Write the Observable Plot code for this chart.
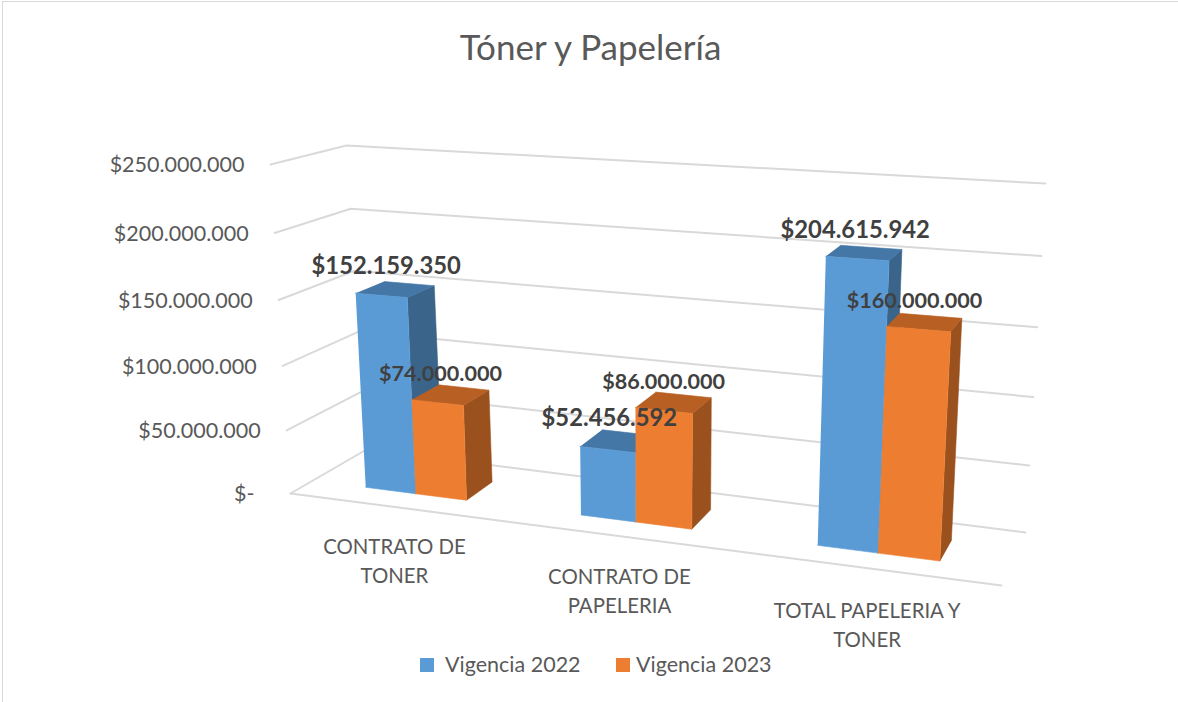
<!DOCTYPE html>
<html lang="es">
<head>
<meta charset="utf-8">
<script src="https://cdn.jsdelivr.net/npm/d3@7"></script>
<script src="https://cdn.jsdelivr.net/npm/@observablehq/plot@0.6"></script>
<style>
  html, body { margin: 0; background: #fff; }
  #frame { position: absolute; left: 2px; top: 1px; width: 1176px; height: 701px; box-sizing: border-box;
           border-left: 1px solid #d9d9d9; border-top: 1px solid #d9d9d9; }
  #page { position: absolute; left: 0; top: 0; width: 1178px; height: 702px; font-family: Lato, sans-serif; color: #595959; }
  #title { position: absolute; left: 0; top: 0; width: 1181px; height: 90px; line-height: 92px; text-align: center;
           font-size: 35px; font-weight: 400; margin: 0; }
  #chart { position: absolute; left: 0; top: 90px; }
  #legend { position: absolute; left: 0; top: 640px; width: 1178px; height: 62px; font-size: 21.5px; }
  #legend span { position: absolute; top: 12px; line-height: 24px; white-space: nowrap; }
  #legend i { position: absolute; top: 18px; width: 14px; height: 14px; }
</style>
</head>
<body>
<div id="frame"></div>
<div id="page">
  <h1 id="title">Tóner y Papelería</h1>
  <div id="chart"></div>
  <div id="legend"></div>
</div>
<script>
const categories = ["CONTRATO DE\nTONER", "CONTRATO DE\nPAPELERIA", "TOTAL PAPELERIA Y\nTONER"];
const vigencia2022 = [152159350, 52456592, 204615942];
const vigencia2023 = [74000000, 86000000, 160000000];
const seriesNames = ["Vigencia 2022", "Vigencia 2023"];
const yTicks = [0, 50000000, 100000000, 150000000, 200000000, 250000000];
const yMax = 250000000;

// colours: [front, top, side] for each series
const palette = [
  ["#5b9bd5", "#4477a6", "#3a6489"],
  ["#ed7d31", "#b85f24", "#9a511e"]
];

// The 3D view of the box: where its eight corners fall on the page.
const view = {
  floor: {fl: [290, 493], fr: [1001, 585], bl: [366, 449], br: [1025, 532]},
  ceil:  {fl: [270, 164], fr: [1023, 207], bl: [346, 145], br: [1045, 183]},
  barBandWidth: 0.08, wFront: 0.295, wBack: 0.69, kX: 0.155, kV: 0.05
};
const lerp = (a, b, s) => [a[0] + (b[0] - a[0]) * s, a[1] + (b[1] - a[1]) * s];
const bilin = (q, u, w) => lerp(lerp(q.fl, q.fr, u), lerp(q.bl, q.br, u), w);
const uOf = t => t / (1 + view.kX * (1 - t));
const fOf = v => { const t = v / yMax; return t - view.kV * t * (1 - t); };
// t: 0..1 across the categories, w: 0..1 front to back, v: money value
const project = (t, w, v) => {
  const u = uOf(t);
  return lerp(bilin(view.floor, u, w), bilin(view.ceil, u, w), fOf(v));
};

const fmt = d3.formatLocale({decimal: ",", thousands: ".", grouping: [3], currency: ["$", ""]}).format("$,.0f");
const money = v => v === 0 ? "$-" : fmt(v);

// gridlines
const grid = [];
yTicks.forEach(v => {
  [[0, 0], [0, 1], [1, 1]].forEach(([t, w]) => {
    const [x, y] = project(t, w, v);
    grid.push({x, y, id: "g" + v});
  });
});
[[0, 0], [1, 0]].forEach(([t, w]) => {
  const [x, y] = project(t, w, 0);
  grid.push({x, y, id: "front"});
});

// bar faces, back to front
const faces = [];
const labels = [[], []];
categories.forEach((c, i) => {
  const mid = (i + 0.5) / categories.length;
  [vigencia2022, vigencia2023].forEach((vals, s) => {
    const v = vals[i];
    const t0 = mid + (s - 1) * view.barBandWidth, t1 = t0 + view.barBandWidth;
    const {wFront: w0, wBack: w1} = view;
    const poly = (name, color, corners) => corners.forEach(([t, w, val]) => {
      const [x, y] = project(t, w, val);
      faces.push({x, y, id: `${i}-${s}-${name}`, color});
    });
    poly("side", palette[s][2], [[t1, w0, 0], [t1, w1, 0], [t1, w1, v], [t1, w0, v]]);
    poly("top", palette[s][1], [[t0, w0, v], [t1, w0, v], [t1, w1, v], [t0, w1, v]]);
    poly("front", palette[s][0], [[t0, w0, 0], [t1, w0, 0], [t1, w0, v], [t0, w0, v]]);
    const [x, y] = project((t0 + t1) / 2, (w0 + w1) / 2, v);
    labels[s].push({x, y, text: money(v)});
  });
});

const tickRows = yTicks.map(v => {
  const [x, y] = project(0, 0, v);
  return {x: x + (v === 0 ? -36 : -26), y, text: money(v)};
});
const catRows = categories.map((text, i) => {
  const t = (i + 0.5) / categories.length;
  const [x, y] = project(t, 0, 0);
  return {x, y: y + 51 + 5 * uOf(t), text};
});

const chart = Plot.plot({
  width: 1178, height: 550,
  marginTop: 0, marginRight: 0, marginBottom: 0, marginLeft: 0,
  x: {domain: [0, 1178], range: [0, 1178], axis: null},
  y: {domain: [90, 640], range: [0, 550], axis: null},
  style: {background: "transparent", fontFamily: "Lato, sans-serif", overflow: "visible"},
  marks: [
    Plot.line(grid, {x: "x", y: "y", z: "id", stroke: "#d9d9d9", strokeWidth: 2}),
    Plot.line(faces, {x: "x", y: "y", z: "id", fill: "color", stroke: "color", strokeWidth: 0.6}),
    Plot.text(tickRows, {x: "x", y: "y", text: "text", textAnchor: "end", dy: 1, fontSize: 21.5, fill: "#595959"}),
    Plot.text(catRows, {x: "x", y: "y", text: "text", textAnchor: "middle", dx: -1, lineHeight: 1.42, fontSize: 20.4, fill: "#595959"}),
    Plot.text(labels[0], {x: "x", y: "y", text: "text", textAnchor: "middle", dx: -9, dy: -23, fontSize: 23.8, fontWeight: 700, fill: "#404040"}),
    Plot.text(labels[1], {x: "x", y: "y", text: "text", textAnchor: "middle", dx: -10, dy: -21, fontSize: 21.6, fontWeight: 700, fill: "#404040"})
  ]
});
document.getElementById("chart").appendChild(chart);

// legend
const legend = document.getElementById("legend");
[[420, 445], [616, 636]].forEach(([sx, tx], s) => {
  const sw = document.createElement("i");
  sw.style.left = sx + "px";
  sw.style.background = palette[s][0];
  const lab = document.createElement("span");
  lab.style.left = tx + "px";
  lab.textContent = seriesNames[s];
  legend.append(sw, lab);
});
</script>
</body>
</html>
